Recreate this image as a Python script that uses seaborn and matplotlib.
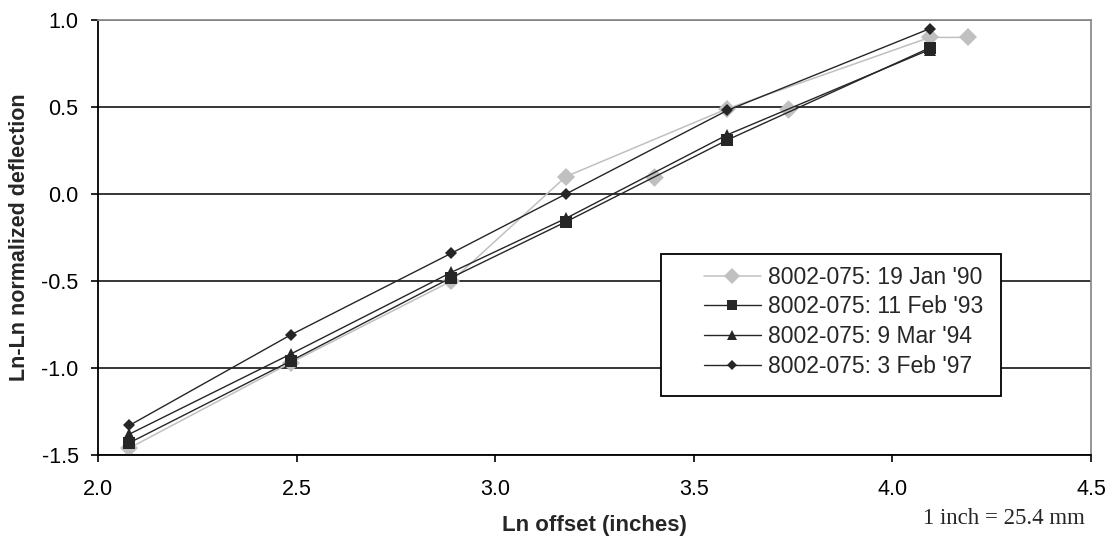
import matplotlib
matplotlib.use('Agg')
import matplotlib.pyplot as plt
from matplotlib.patches import Rectangle
import pandas as pd
import seaborn as sns

sns.set_style('ticks')
plt.rcParams['font.family'] = ['Liberation Sans', 'DejaVu Sans']
plt.rcParams['axes.unicode_minus'] = False

# ln of offset in inches (8, 12, 18, 24, 36, 60, 66 in.)
ln_offset = [2.079, 2.485, 2.890, 3.178, 3.584, 4.094]
jan90_x = [2.079, 2.485, 2.890, 3.178, 3.584, 4.094, 4.190]
jan90_y = [-1.46, -0.97, -0.50, 0.10, 0.49, 0.90, 0.90]
jan90_extra_x = [3.401, 3.738]
jan90_extra_y = [0.10, 0.49]
feb93_y = [-1.43, -0.96, -0.48, -0.16, 0.31, 0.84]
mar94_y = [-1.38, -0.92, -0.45, -0.14, 0.34, 0.83]
feb97_y = [-1.33, -0.81, -0.34, 0.00, 0.48, 0.95]

labels = ["8002-075: 19 Jan '90", "8002-075: 11 Feb '93",
          "8002-075: 9 Mar '94", "8002-075: 3 Feb '97"]
x_ticks = [2.0, 2.5, 3.0, 3.5, 4.0, 4.5]
y_ticks = [-1.5, -1.0, -0.5, 0.0, 0.5, 1.0]

gray = '#c0c0c0'
dark = '#262626'

fig = plt.figure(figsize=(11.12, 5.42), dpi=100)
ax = fig.add_axes([0.0881, 0.1605, 0.893, 0.8026])

sns.lineplot(x=jan90_x, y=jan90_y, ax=ax, color=gray, lw=1.1, marker='D',
             markersize=9.5, markeredgewidth=0, label=labels[0], zorder=2)
sns.scatterplot(x=jan90_extra_x, y=jan90_extra_y, ax=ax, color=gray, marker='D',
                s=90, linewidth=0, zorder=2, legend=False)
sns.lineplot(x=ln_offset, y=feb93_y, ax=ax, color=dark, lw=1.0, marker='s',
             markersize=8, markeredgewidth=0, label=labels[1], zorder=3)
sns.lineplot(x=ln_offset, y=mar94_y, ax=ax, color=dark, lw=1.0, marker='^',
             markersize=8.5, markeredgewidth=0, label=labels[2], zorder=3)
sns.lineplot(x=ln_offset, y=feb97_y, ax=ax, color=dark, lw=1.0, marker='D',
             markersize=6.5, markeredgewidth=0, label=labels[3], zorder=3)

ax.set_xlim(2.0, 4.5)
ax.set_ylim(-1.5, 1.0)
ax.set_xticks(x_ticks)
ax.set_yticks(y_ticks)
ax.set_xticklabels([f'{t:.1f}' for t in x_ticks])
ax.set_yticklabels([f'{t:.1f}' for t in y_ticks])
ax.tick_params(axis='x', length=5, width=1.2, pad=12, labelsize=15.5, colors='black')
ax.tick_params(axis='y', length=5, width=1.2, pad=9, labelsize=15.5, colors='black')

ax.grid(axis='y', color='black', lw=1.1)
ax.set_axisbelow(True)
for side in ['left', 'bottom']:
    ax.spines[side].set_color('black')
    ax.spines[side].set_linewidth(1.3)
for side in ['top', 'right']:
    ax.spines[side].set_color('#8c8c8c')
    ax.spines[side].set_linewidth(1.3)

ax.set_xlabel('Ln offset (inches)', fontsize=16, fontweight='bold')
ax.set_ylabel('Ln-Ln normalized deflection', fontsize=15.5, fontweight='bold')
ax.xaxis.set_label_coords(0.5, -0.138)
ax.yaxis.set_label_coords(-0.068, 0.5)

# legend box
ax.add_patch(Rectangle((0.567, 0.136), 0.342, 0.326, transform=ax.transAxes,
                       facecolor='white', edgecolor='black', lw=1.3, zorder=4))
leg = ax.legend(loc='center left', bbox_to_anchor=(0.61, 0.306), frameon=False,
                fontsize=16.5, handlelength=2.5, handletextpad=0.3,
                labelspacing=0.3, borderpad=0, borderaxespad=0, markerscale=0.85)
leg.set_zorder(5)

fig.text(0.9757, 0.044, '1 inch = 25.4 mm', family='Liberation Serif',
         fontsize=16.5, ha='right', va='center')

fig.savefig('out.png', dpi=100)
